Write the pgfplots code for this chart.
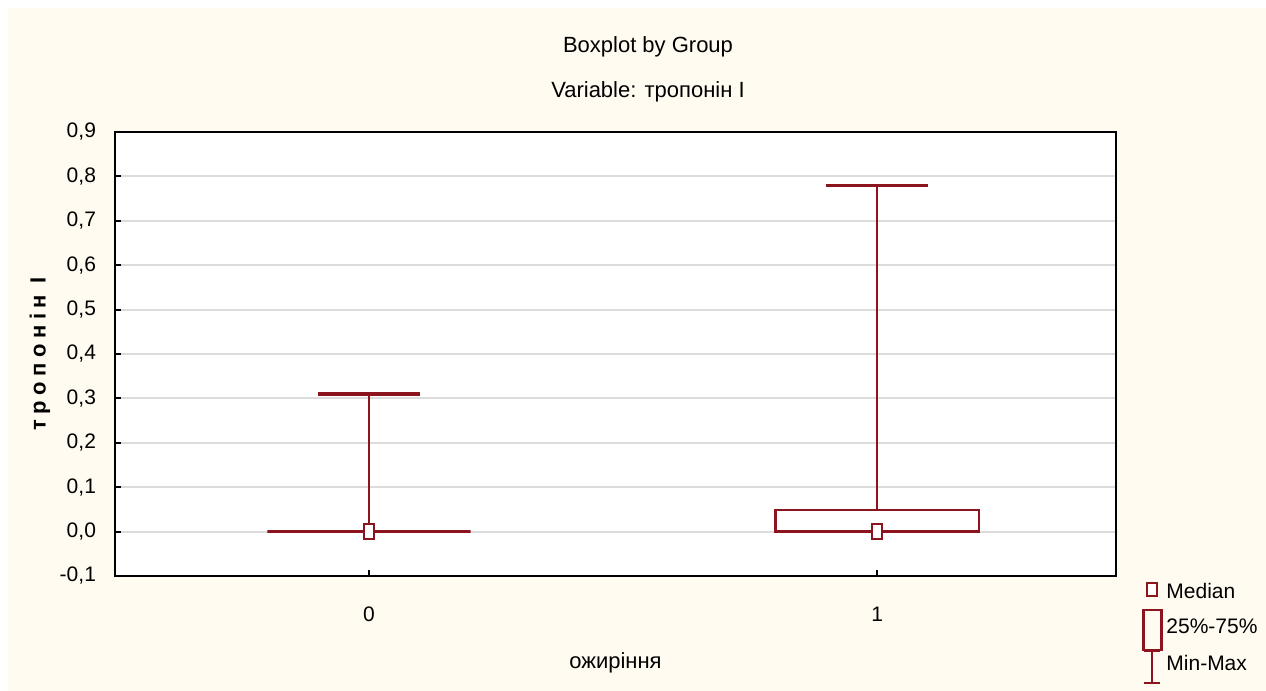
\documentclass[border=0pt]{standalone}
\usepackage{fontspec}
\setmainfont{Liberation Sans}
\newfontfamily\spaced[LetterSpace=25]{Liberation Sans}
\usepackage{pgfplots}
\pgfplotsset{compat=1.18}
\usepgfplotslibrary{statistics}

\definecolor{boxred}{RGB}{140,20,30}
\definecolor{cream}{RGB}{255,251,240}
\definecolor{gridgray}{RGB}{220,220,220}

\begin{document}
\begin{tikzpicture}
\useasboundingbox (0,0) rectangle (633pt,345.5pt);
\fill[white] (0,0) rectangle (633pt,345.5pt);
\fill[cream] (4pt,0) rectangle (633pt,341.5pt);
\node[font=\fontsize{11}{13}\selectfont] at (324pt,322pt) {Boxplot by Group};
\node[font=\fontsize{11}{13}\selectfont] at (324pt,299.5pt) {Variable: тропонін I};

\begin{axis}[
    at={(57.5pt,57.5pt)}, anchor=south west,
    scale only axis,
    width=500.5pt, height=222pt,
    xmin=-0.5, xmax=1.47,
    ymin=-0.1, ymax=0.9,
    xtick={0,1},
    ytick={-0.1,0,0.1,0.2,0.3,0.4,0.5,0.6,0.7,0.8,0.9},
    scaled y ticks=false,
    /pgf/number format/assume math mode=true,
    yticklabel style={xshift=-6pt, /pgf/number format/.cd, fixed, fixed zerofill, precision=1, use comma, assume math mode=true},
    xticklabel style={yshift=-12pt},
    tick label style={font=\fontsize{10.5}{12}\selectfont},
    tick pos=left,
    tick align=inside,
    major tick length=3pt,
    tick style={black, line width=1pt},
    axis line style={black, line width=1.2pt},
    axis background/.style={fill=white},
    ymajorgrids=true,
    grid style={gridgray, line width=1pt},
    xlabel={ожиріння},
    xlabel style={font=\fontsize{11}{13}\selectfont, at={(axis description cs:0.5,-0.196)}, anchor=center},
    ylabel={\spaced\bfseries тропонін I},
    ylabel style={font=\fontsize{11}{13}\selectfont, at={(axis description cs:-0.075,0.5)}, anchor=center, rotate=0},
    boxplot/draw direction=y,
    boxplot/draw/median/.code={},
    boxplot/draw/lower whisker/.code={},
    boxplot/draw/upper whisker/.code={%
        \draw[line width=0.8pt]
            (boxplot box cs:\pgfplotsboxplotvalue{upper quartile},0.5) --
            (boxplot box cs:\pgfplotsboxplotvalue{upper whisker},0.5);
        \draw[line width=1.6pt]
            (boxplot whisker cs:\pgfplotsboxplotvalue{upper whisker},0) --
            (boxplot whisker cs:\pgfplotsboxplotvalue{upper whisker},1);
    },
    legend style={at={(axis description cs:1.026,-0.006)}, anchor=north west,
        draw=none, fill=none, font=\fontsize{10.5}{12}\selectfont,
        row sep=5pt, inner sep=0pt},
    legend cell align=left,
]

% group 0
\addplot+[forget plot, mark=none, color=boxred, line width=1.2pt,
    boxplot prepared={draw position=0,
        lower whisker=0, lower quartile=0, median=0,
        upper quartile=0, upper whisker=0.31,
        box extend=0.4, whisker extend=0.2}]
    coordinates {};

% group 1
\addplot+[forget plot, mark=none, color=boxred, line width=1.2pt,
    boxplot prepared={draw position=1,
        lower whisker=0, lower quartile=0, median=0,
        upper quartile=0.048, upper whisker=0.78,
        box extend=0.4, whisker extend=0.2}]
    coordinates {};

% medians
\addplot[forget plot, only marks, mark=square*, mark size=3.8pt,
    mark options={xscale=0.62, draw=boxred, fill=white, line width=1pt}]
    coordinates {(0,0) (1,0)};

\addlegendimage{legend image code/.code={
    \draw[boxred, line width=1pt, fill=white, overlay] (2.5pt,-2pt) rectangle (7.5pt,4.4pt);
    \path[draw=none, fill=none] (0pt,-3pt) rectangle (10pt,3pt);}}
\addlegendentry{Median}
\addlegendimage{legend image code/.code={
    \draw[boxred, line width=1.2pt, fill=none, overlay] (0.5pt,-11pt) rectangle (9.5pt,9pt);
    \path[draw=none, fill=none] (0pt,-3pt) rectangle (10pt,3pt);}}
\addlegendentry{25\%-75\%}
\addlegendimage{legend image code/.code={
    \draw[boxred, line width=1pt, overlay] (5pt,-9.5pt) -- (5pt,6.5pt)
        (1pt,6.5pt) -- (9pt,6.5pt) (1pt,-9.5pt) -- (9pt,-9.5pt);
    \path[draw=none, fill=none] (0pt,-3pt) rectangle (10pt,3pt);}}
\addlegendentry{Min-Max}
\end{axis}
\end{tikzpicture}
\end{document}
